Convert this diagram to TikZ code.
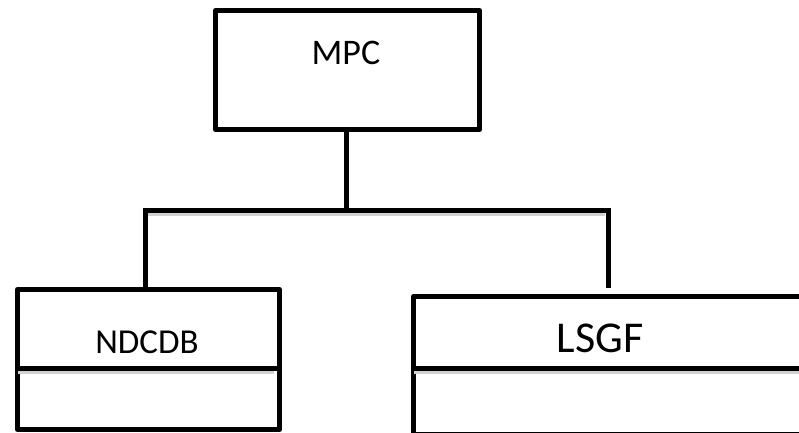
\documentclass[tikz,border=0pt]{standalone}
\usepackage{fontspec}
\setmainfont{Carlito}
\begin{document}
\begin{tikzpicture}[x=1pt,y=-1pt,
  boxline/.style={draw=black,line width=5pt,line join=round},
  conn/.style={draw=black,line width=5pt,line join=miter},
  shade/.style={draw=black!18,line width=4pt,shorten <=3pt,shorten >=3pt},
  lbl/.style={inner sep=0pt,text=black}]
\useasboundingbox (0,0) rectangle (799,432);
\clip (0,0) rectangle (799,432);
\fill[white] (0,0) rectangle (799,432);
% boxes (as named nodes)
\node[boxline,rectangle,minimum width=264pt,minimum height=119pt,inner sep=0pt,anchor=north west] (mpc) at (213,8) {};
\node[boxline,rectangle,minimum width=262pt,minimum height=140pt,inner sep=0pt,anchor=north west] (ndcdb) at (15,287) {};
\node[boxline,rectangle,minimum width=420pt,minimum height=138pt,inner sep=0pt,anchor=north west] (lsgf) at (411,294) {};
% labels
\node[lbl,font=\fontsize{36}{40}\selectfont] (tmpc) at (346,53) {MPC};
\node[lbl,font=\fontsize{35}{40}\selectfont] (tndcdb) at (147,342) {NDCDB};
\node[lbl,font=\fontsize{44}{48}\selectfont] (tlsgf) at (600,338) {LSGF};
% dividers
\coordinate (ndl) at (15,368);
\coordinate (ndr) at (277,368);
\coordinate (lsl) at (411,368);
\coordinate (lsr) at (820,368);
\draw[shade] ([yshift=-3.5pt]ndl) -- ([yshift=-3.5pt]ndr);
\draw[shade] ([yshift=-3.5pt]lsl) -- ([yshift=-3.5pt]lsr);
\draw[boxline] (ndl) -- (ndr);
\draw[boxline] (lsl) -- (lsr);
% connectors
\coordinate (hub) at (346,210);
\coordinate (hl) at (145,210);
\coordinate (hr) at (608,210);
\coordinate (lsgfin) at (608,288);
\draw[shade] ([yshift=-3.5pt]hl) -- ([yshift=-3.5pt]hr);
\draw[conn] (mpc.south -| hub) -- (hub);
\draw[conn] (ndcdb.north -| hl) -- (hl) -- (hr) -- (lsgfin);
\end{tikzpicture}
\end{document}
